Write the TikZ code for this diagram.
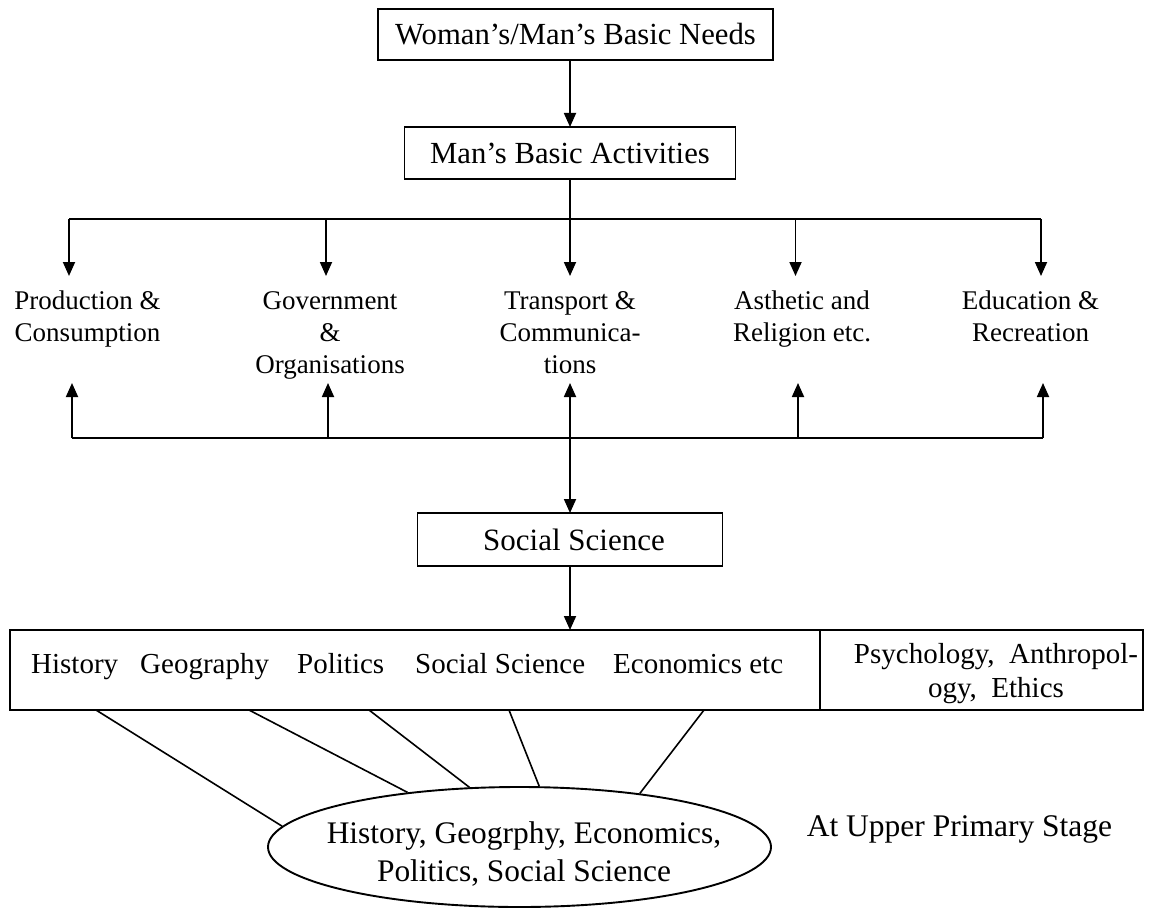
\documentclass[tikz,border=0pt]{standalone}
\usepackage{fontspec}
\setmainfont{Liberation Serif}
\usetikzlibrary{arrows.meta,shapes.geometric}
\begin{document}
\begin{tikzpicture}[x=1pt,y=-1pt,
  box/.style={draw,line width=1.9pt,inner sep=0pt,outer sep=0pt},
  lab/.style={align=center,inner sep=0pt,anchor=north,font=\fontsize{27}{32}\selectfont},
  word/.style={inner sep=0pt,anchor=base west,font=\fontsize{29}{34}\selectfont},
  ln/.style={line width=1.8pt},
  arr/.style={line width=1.8pt,-{Triangle[length=14pt,width=12pt]}},
  darr/.style={line width=1.8pt,{Triangle[length=14pt,width=12pt]}-{Triangle[length=14pt,width=12pt]}},
  diag/.style={line width=1.6pt}]
\useasboundingbox (0,0) rectangle (1150,909);

% top boxes
\node[box,minimum width=395pt,minimum height=51pt,font=\fontsize{30.7}{36}\selectfont] (needs) at (575.5,34.5) {Woman’s/Man’s Basic Needs};
\node[box,minimum width=331pt,minimum height=52pt,font=\fontsize{30.7}{36}\selectfont] (act) at (570,153) {Man’s Basic Activities};
\draw[arr] (act.north |- needs.south) -- (act.north);

% branch line and arrows down
\coordinate (L1) at (69,219);
\coordinate (L2) at (326,219);
\coordinate (L3) at (570,219);
\coordinate (L4) at (795.5,219);
\coordinate (L5) at (1041,219);
\coordinate (T1) at (69,276);
\coordinate (T2) at (326,276);
\coordinate (T3) at (570,276);
\coordinate (T4) at (795.5,276);
\coordinate (T5) at (1041,276);
\draw[ln] (act.south) -- (L3);
\draw[ln] (L1) -- (L5);
\foreach \i in {1,...,5} {\draw[arr] (L\i) -- (T\i);}

% labels
\node[lab] (prod) at (87.5,286.6) {\strut Production \&\\\strut Consumption};
\node[lab] (gov) at (330,286.6) {\strut Government\\\strut\&\\\strut Organisations};
\node[lab] (trans) at (570,286.6) {\strut Transport \&\\\strut Communica-\\\strut tions};
\node[lab] (asth) at (802,286.6) {\strut Asthetic and\\\strut Religion etc.};
\node[lab] (edu) at (1030.5,286.6) {\strut Education \&\\\strut Recreation};

% bottom line and arrows up
\coordinate (B1) at (72,438);
\coordinate (B2) at (328,438);
\coordinate (B4) at (798,438);
\coordinate (B5) at (1043,438);
\coordinate (U1) at (72,383);
\coordinate (U2) at (328,383);
\coordinate (U3) at (570,383);
\coordinate (U4) at (798,383);
\coordinate (U5) at (1043,383);
\draw[ln] (B1) -- (B5);
\draw[arr] (B1) -- (U1);
\draw[arr] (B2) -- (U2);
\draw[arr] (B4) -- (U4);
\draw[arr] (B5) -- (U5);

% social science box
\node[box,minimum width=305pt,minimum height=53pt,font=\fontsize{31}{36}\selectfont] (ss) at (570,539.5) {\hspace*{8pt}Social Science};
\draw[darr] (ss.north) -- (U3);

% big row
\node[box,minimum width=810pt,minimum height=80pt] (rowL) at (415,670) {};
\node[box,minimum width=323pt,minimum height=80pt,anchor=west] (rowR) at (rowL.east) {};
\draw[arr] (ss.south) -- (ss.south |- rowL.north);
\node[word] (w1) at (31,673) {History};
\node[word] (w2) at (140,673) {Geography};
\node[word] (w3) at (297,673) {Politics};
\node[word] (w4) at (415,673) {Social Science};
\node[word] (w5) at (613,673) {Economics etc};
\node[inner sep=0pt,align=center,anchor=north,font=\fontsize{29}{34}\selectfont] (psy) at (996,639.2) {\strut Psychology,\ \ Anthropol-\\\strut ogy,\ \ Ethics};

% ellipse
\node[draw,ellipse,line width=1.9pt,minimum width=503pt,minimum height=120pt,inner sep=0pt] (ell) at (519.5,847) {};
\node[inner sep=0pt,align=center,anchor=north,font=\fontsize{31.4}{38}\selectfont] (elltext) at (524,816.4) {\strut History, Geogrphy, Economics,\\\strut Politics, Social Science};
\node[inner sep=0pt,anchor=base,font=\fontsize{31.5}{36}\selectfont] (stage) at (959.5,836) {At Upper Primary Stage};

% connectors row -> ellipse
\coordinate (r1) at (96,710);
\coordinate (r2) at (249,710);
\coordinate (r3) at (369,710);
\coordinate (r4) at (509,710);
\coordinate (r5) at (704,710);
\draw[diag] (r1) -- (ell.175.7);
\draw[diag] (r2) -- (ell.154.7);
\draw[diag] (r3) -- (ell.130);
\draw[diag] (r4) -- (ell.72);
\draw[diag] (r5) -- (ell.24.4);
\end{tikzpicture}
\end{document}
